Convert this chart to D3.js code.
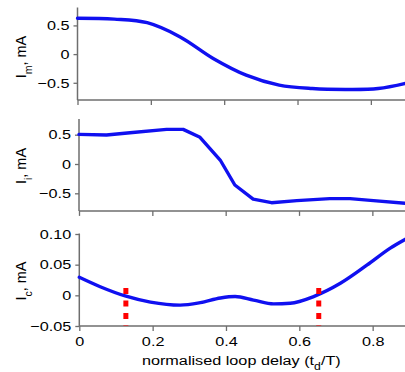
<!DOCTYPE html>
<html><head><meta charset="utf-8">
<script src="https://cdn.jsdelivr.net/npm/d3@7"></script>
<style>
html,body{margin:0;padding:0;background:#fff;}
svg{display:block;font-family:"Liberation Sans",Arial,Helvetica,sans-serif;}
</style></head>
<body>
<svg id="chart" width="405" height="372"></svg>
<script>
// ---- data ----
const xTickValues = [0, 0.2, 0.4, 0.6, 0.8];
const xTickLabels = ["0", "0.2", "0.4", "0.6", "0.8"];

const imT = [0, 0.1, 0.19, 0.28, 0.37, 0.46, 0.55, 0.64, 0.73, 0.82, 0.9];
const imV = [0.625, 0.61, 0.547, 0.30, -0.075, -0.366, -0.54, -0.60, -0.616, -0.60, -0.50];

const iiT = [0, 0.075, 0.139, 0.239, 0.284, 0.33, 0.385, 0.425, 0.475, 0.525, 0.594, 0.684, 0.739, 0.803, 0.9];
const iiV = [0.506, 0.494, 0.533, 0.59, 0.59, 0.455, 0.068, -0.358, -0.60, -0.66, -0.625, -0.59, -0.59, -0.625, -0.675];

const icT = [0, 0.057, 0.125, 0.194, 0.275, 0.33, 0.385, 0.425, 0.475, 0.53, 0.575, 0.639, 0.712, 0.785, 0.848, 0.9];
const icV = [0.0294, 0.014, -0.001, -0.011, -0.016, -0.012, -0.0044, -0.002, -0.0077, -0.014, -0.013, -0.002, 0.0196, 0.0495, 0.077, 0.095];

const markerT = [0.127, 0.653];
const markerTop = 0.012;

const ymTicks = [-0.5, 0, 0.5];
const ymLabels = ["\u22120.5", "0", "0.5"];
const yiTicks = [-0.5, 0, 0.5];
const yiLabels = ["\u22120.5", "0", "0.5"];
const ycTicks = [-0.05, 0, 0.05, 0.10];
const ycLabels = ["\u22120.05", "0", "0.05", "0.10"];

// ---- drawing ----
const svg = d3.select("#chart");
const AX = "#6e6e6e";
const BLUE = "#1010f0";
const SX = 1.22;

const panels = [
  {x0: 77.5, yDom: [-0.8, 0.8], yRange: [100, 8.2], top: 7.5, t: imT, v: imV, curve: d3.curveCatmullRom,
   ticks: ymTicks, labels: ymLabels, sub: "m", labelY: 57, xLabels: false},
  {x0: 79, yDom: [-0.8, 0.8], yRange: [210.9, 117.1], top: 119, t: iiT, v: iiV, curve: d3.curveLinear,
   ticks: yiTicks, labels: yiLabels, sub: "i", labelY: 166, xLabels: false},
  {x0: 79.3, yDom: [-0.05, 0.10], yRange: [326, 234], top: 233.5, t: icT, v: icV, curve: d3.curveMonotoneX,
   ticks: ycTicks, labels: ycLabels, sub: "c", labelY: 281, xLabels: true}
];

panels.forEach((p, pi) => {
  const x = d3.scaleLinear().domain([0, 0.9]).range([p.x0, p.x0 + 0.9 * 366.7]);
  const y = d3.scaleLinear().domain(p.yDom).range(p.yRange);
  const g = svg.append("g");

  // y axis
  const ya = g.append("g").attr("transform", `translate(${p.x0},0)`)
    .call(d3.axisLeft(y).tickValues(p.ticks).tickFormat((d, i) => p.labels[i]).tickSize(4).tickSizeOuter(0));
  ya.select(".domain").attr("d", `M0,${p.top}V${p.yRange[0]}`);
  // x axis
  const xa = g.append("g").attr("transform", `translate(0,${p.yRange[0]})`)
    .call(d3.axisBottom(x).tickValues(xTickValues).tickFormat((d, i) => p.xLabels ? xTickLabels[i] : "").tickSize(5).tickSizeOuter(0));
  xa.select(".domain").attr("d", `M${p.x0},0H${p.x0 + 340}`);

  [ya, xa].forEach(a => {
    a.selectAll(".domain").attr("stroke", AX).attr("stroke-width", 1.5);
    a.selectAll(".tick line").attr("stroke", AX).attr("stroke-width", 1.3);
    a.selectAll("text").attr("fill", "#000").attr("font-size", 13.3)
      .attr("font-family", '"Liberation Sans",Arial,sans-serif');
  });
  ya.selectAll(".tick text").attr("x", 0).attr("transform", `translate(-8,0) scale(${SX},1)`);
  xa.selectAll(".tick text").attr("y", 0).attr("transform", `translate(0,11) scale(${SX},1)`);

  // y label
  const yl = g.append("text")
    .attr("transform", `translate(26,${p.labelY}) rotate(-90)`)
    .attr("text-anchor", "middle").attr("font-size", 14.5).attr("fill", "#000");
  yl.append("tspan").text("I");
  yl.append("tspan").attr("baseline-shift", "sub").attr("font-size", 10.5).text(p.sub);
  yl.append("tspan").text(", mA");

  // data line
  const pts = p.t.map((t, i) => [t, p.v[i]]);
  g.append("path").datum(pts)
    .attr("fill", "none").attr("stroke", BLUE).attr("stroke-width", 3.4)
    .attr("stroke-linejoin", "round").attr("stroke-linecap", "round")
    .attr("d", d3.line().x(d => x(d[0])).y(d => y(d[1])).curve(p.curve));

  if (pi === 2) {
    g.selectAll(".marker").data(markerT).enter().append("line")
      .attr("x1", d => x(d)).attr("x2", d => x(d))
      .attr("y1", y(markerTop)).attr("y2", y(-0.05))
      .attr("stroke", "#ff0000").attr("stroke-width", 5).attr("stroke-dasharray", "6,6.5");
    const tl = g.append("text")
      .attr("transform", `translate(${p.x0 + 0.45 * 366.7 - 3},365) scale(${SX},1)`)
      .attr("text-anchor", "middle").attr("font-size", 13.3).attr("fill", "#000");
    tl.append("tspan").text("normalised loop delay (t");
    tl.append("tspan").attr("baseline-shift", "sub").attr("font-size", 10).text("d");
    tl.append("tspan").text("/T)");
  }
});
</script>
</body></html>
